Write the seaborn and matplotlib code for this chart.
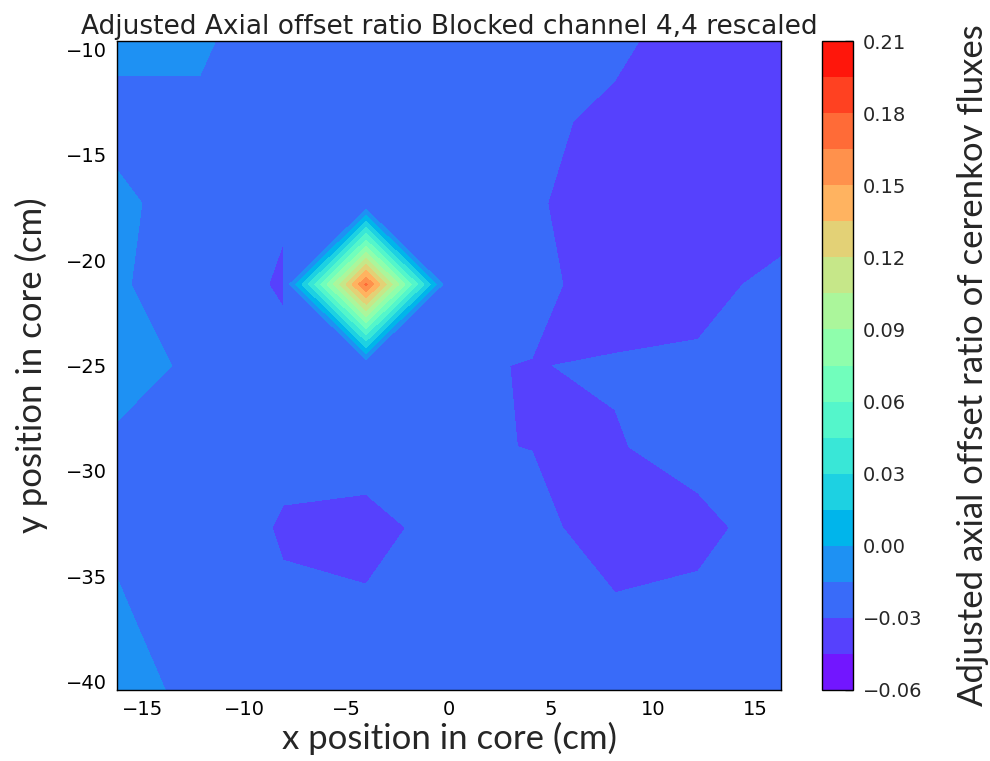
import numpy as np
import matplotlib
matplotlib.use("Agg")
import matplotlib.pyplot as plt
from matplotlib.ticker import FuncFormatter
import seaborn as sns

# ---- data -------------------------------------------------------------
x_positions = [-16.25, -12.1875, -8.125, -4.0625, 0.0, 4.0625, 8.125, 12.1875, 16.25]
y_positions = [-40.4, -36.55, -32.7, -28.85, -25.0, -21.15, -17.3, -13.45, -9.6]

# one list per row (bottom to top), values along x
ratio_row_y_m40_40 = [-0.0053, -0.0220, -0.0225, -0.0230, -0.0235, -0.0235, -0.0235, -0.0230, -0.0225]
ratio_row_y_m36_55 = [-0.0137, -0.0220, -0.0282, -0.0276, -0.0240, -0.0240, -0.0279, -0.0235, -0.0220]
ratio_row_y_m32_70 = [-0.0171, -0.0220, -0.0312, -0.0355, -0.0240, -0.0250, -0.0385, -0.0375, -0.0177]
ratio_row_y_m28_85 = [-0.0211, -0.0220, -0.0269, -0.0222, -0.0286, -0.0303, -0.0320, -0.0200, -0.0220]
ratio_row_y_m25_00 = [-0.0014, -0.0220, -0.0287, -0.0297, -0.0278, -0.0308, -0.0276, -0.0262, -0.0220]
ratio_row_y_m21_15 = [-0.0124, -0.0276, -0.0305, 0.1680, -0.0299, -0.0219, -0.0437, -0.0380, -0.0232]
ratio_row_y_m17_30 = [-0.0120, -0.0220, -0.0295, -0.0295, -0.0250, -0.0286, -0.0360, -0.0400, -0.0432]
ratio_row_y_m13_45 = [-0.0193, -0.0194, -0.0220, -0.0230, -0.0240, -0.0242, -0.0360, -0.0400, -0.0420]
ratio_row_y_m9_60 = [-0.0118, -0.0118, -0.0290, -0.0240, -0.0240, -0.0250, -0.0244, -0.0437, -0.0400]

contour_levels = np.linspace(-0.06, 0.21, 19)
colorbar_ticks = [-0.06, -0.03, 0.00, 0.03, 0.06, 0.09, 0.12, 0.15, 0.18, 0.21]
x_ticks = [-15, -10, -5, 0, 5, 10, 15]
y_ticks = [-40, -35, -30, -25, -20, -15, -10]

title_text = "Adjusted Axial offset ratio Blocked channel 4,4 rescaled"
x_label = "x position in core (cm)"
y_label = "y position in core (cm)"
cbar_label = "Adjusted axial offset ratio of cerenkov fluxes"

# ---- style --------------------------------------------------------------
sns.set_style("ticks", {
    "xtick.direction": "in", "ytick.direction": "in",
    "axes.edgecolor": "black", "axes.linewidth": 1.0,
})
plt.rcParams["font.family"] = ["DejaVu Sans"]

Z = np.array([ratio_row_y_m40_40, ratio_row_y_m36_55, ratio_row_y_m32_70,
              ratio_row_y_m28_85, ratio_row_y_m25_00, ratio_row_y_m21_15,
              ratio_row_y_m17_30, ratio_row_y_m13_45, ratio_row_y_m9_60])
X, Y = np.meshgrid(x_positions, y_positions)

fig = plt.figure(figsize=(9.9, 7.61), dpi=100)
ax = fig.add_axes([0.1182, 0.0933, 0.6707, 0.8528])
cax = fig.add_axes([0.8303, 0.0933, 0.0313, 0.8528])

cs = ax.contourf(X, Y, Z, levels=contour_levels, cmap="rainbow", antialiased=False)

ax.set_xlim(x_positions[0], x_positions[-1])
ax.set_ylim(y_positions[0], y_positions[-1])
ax.set_xticks(x_ticks)
ax.set_yticks(y_ticks)
minus = lambda v, p: f"{v:g}".replace("-", "\u2212")
ax.xaxis.set_major_formatter(FuncFormatter(minus))
ax.yaxis.set_major_formatter(FuncFormatter(minus))
ax.tick_params(direction="in", top=True, right=True, length=6, width=1,
               labelsize=14, colors="black", pad=7)
for s in ax.spines.values():
    s.set_color("black")
    s.set_linewidth(1.0)

ax.set_title(title_text, fontsize=19, pad=5, color="#222222")
ax.set_xlabel(x_label, fontsize=25, family="Lato", labelpad=2)
ax.set_ylabel(y_label, fontsize=25, family="Lato", labelpad=13)

cb = fig.colorbar(cs, cax=cax, ticks=colorbar_ticks)
cb.ax.yaxis.set_major_formatter(FuncFormatter(lambda v, p: f"{v:.2f}".replace("-", "\u2212")))
cb.ax.tick_params(direction="in", length=6, width=1, labelsize=14, pad=7, right=True)
cb.outline.set_edgecolor("black")
cb.outline.set_linewidth(1.0)
cb.set_label(cbar_label, fontsize=25, family="Lato", labelpad=25)

fig.savefig("out.png", dpi=100)
